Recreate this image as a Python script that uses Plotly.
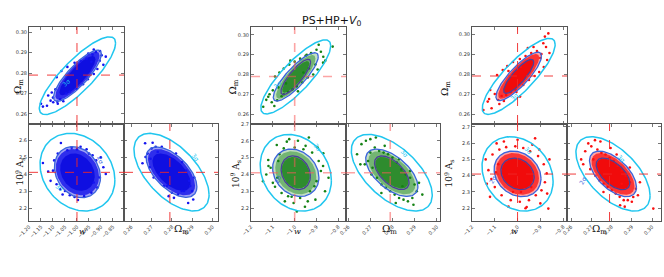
import numpy as np
import plotly.graph_objects as go

FIG_W, FIG_H = 664, 277
TITLE = "PS+HP+<i>V</i><sub>0</sub>"

# fiducial values (dashed lines)
W_FID = -1.0
OM_FID = 0.279
AS_FID = 2.41

# tick values
w_ticks_g1 = [-1.20, -1.15, -1.10, -1.05, -1.00, -0.95, -0.90, -0.85, -0.80]
w_ticks = [-1.2, -1.1, -1.0, -0.9, -0.8]
om_ticks = [0.26, 0.27, 0.28, 0.29, 0.30]
as_ticks = [2.2, 2.3, 2.4, 2.5, 2.6, 2.7]

# axis ranges per group
w_range = [[-1.20, -0.804], [-1.20, -0.765], [-1.20, -0.783]]
om_y_range = [[0.2551, 0.3025], [0.255, 0.304], [0.255, 0.3035]]
om_x_range = [[0.2564, 0.3027], [0.259, 0.3015], [0.258, 0.3044]]
as_range = [[2.124, 2.694], [2.123, 2.70], [2.122, 2.717]]

# contour ellipses: centre, correlation, half-extents (x, y) for 3sigma/2sigma/1sigma, cloud body
wom_center = [(-0.998, 0.2787), (-0.995, 0.2788), (-0.995, 0.2788)]
wom_rho = [0.84, 0.84, 0.84]
wom_s3 = [(0.159, 0.019), (0.160, 0.0187), (0.160, 0.019)]
wom_s2 = [(0.100, 0.0125), (0.103, 0.0122), (0.100, 0.0121)]
wom_s1 = [None, (0.068, 0.0089), (0.066, 0.0085)]
wom_body = [(0.092, 0.0117), (0.090, 0.0110), (0.090, 0.0112)]
wom_core = [(0.075, 0.0096), (0.062, 0.0080), (0.066, 0.0084)]

was_center = [(-0.998, 2.411), (-0.995, 2.410), (-1.0, 2.411)]
was_rho = [-0.2, -0.2, -0.2]
was_s3 = [(0.156, 0.228), (0.163, 0.228), (0.156, 0.228)]
was_s2 = [(0.096, 0.150), (0.106, 0.141), (0.103, 0.140)]
was_s1 = [None, (0.067, 0.100), (0.073, 0.097)]
was_body = [(0.090, 0.136), (0.094, 0.128), (0.094, 0.128)]
was_core = [(0.072, 0.110), (0.064, 0.094), (0.070, 0.094)]

omas_center = [(0.2798, 2.411), (0.2797, 2.410), (0.2807, 2.411)]
omas_rho = [-0.58, -0.58, -0.58]
omas_s3 = [(0.0185, 0.228), (0.0183, 0.228), (0.0183, 0.228)]
omas_s2 = [(0.0125, 0.148), (0.0118, 0.141), (0.0116, 0.140)]
omas_s1 = [None, (0.0078, 0.100), (0.0083, 0.097)]
omas_body = [(0.0116, 0.136), (0.0106, 0.128), (0.0106, 0.128)]
omas_core = [(0.0094, 0.110), (0.0075, 0.094), (0.0080, 0.094)]

# scattered samples (outer parts of the clouds)
g1_wom_w = [-1.142, -1.125, -1.110, -1.099, -1.082, -1.080, -1.057, -1.150, -1.120, -1.105, -1.090, -1.045,
            -1.030, -1.000, -0.975, -0.955, -0.930, -0.915, -0.904, -0.921, -0.953, -0.897, -0.905, -0.960,
            -0.985, -1.010, -1.040, -1.065, -1.085, -0.940, -0.890, -0.930, -1.100, -1.070, -0.880, -0.935]
g1_wom_om = [0.2636, 0.2640, 0.2665, 0.2657, 0.2660, 0.2650, 0.2662, 0.2650, 0.2690, 0.2705, 0.2720, 0.2700,
             0.2710, 0.2722, 0.2745, 0.2770, 0.2795, 0.2820, 0.2908, 0.2903, 0.2895, 0.2887, 0.2860, 0.2870,
             0.2860, 0.2850, 0.2830, 0.2810, 0.2780, 0.2855, 0.2840, 0.2915, 0.2680, 0.2672, 0.2880, 0.2890]
g1_was_w = [-1.142, -1.120, -1.067, -1.022, -0.960, -0.901, -0.890, -0.996, -1.060, -1.110, -1.095, -1.080,
            -1.040, -1.000, -0.950, -0.920, -0.905, -0.915, -0.940, -0.970, -1.030, -1.070, -1.100, -1.085,
            -0.930, -0.880, -1.010, -0.985, -1.050, -0.935]
g1_was_as = [2.465, 2.414, 2.582, 2.555, 2.545, 2.498, 2.440, 2.247, 2.280, 2.360, 2.480, 2.520,
             2.540, 2.545, 2.520, 2.480, 2.380, 2.320, 2.290, 2.270, 2.275, 2.310, 2.420, 2.340,
             2.350, 2.400, 2.265, 2.560, 2.300, 2.510]
g1_omas_om = [0.2668, 0.2705, 0.2655, 0.2848, 0.2905, 0.2880, 0.2784, 0.2680, 0.2700, 0.2720, 0.2690, 0.2740,
              0.2760, 0.2800, 0.2830, 0.2860, 0.2890, 0.2910, 0.2870, 0.2850, 0.2820, 0.2750, 0.2710, 0.2670,
              0.2730, 0.2900, 0.2810, 0.2775, 0.2885, 0.2695]
g1_omas_as = [2.581, 2.584, 2.463, 2.300, 2.250, 2.230, 2.270, 2.520, 2.550, 2.560, 2.440, 2.400,
              2.330, 2.290, 2.280, 2.300, 2.330, 2.380, 2.420, 2.470, 2.520, 2.560, 2.380, 2.500,
              2.530, 2.300, 2.260, 2.330, 2.360, 2.490]

g2_wom_w = [-1.144, -1.121, -1.093, -1.130, -1.105, -1.080, -1.060, -1.100, -1.075, -1.050, -1.030, -1.010,
            -0.990, -0.965, -0.940, -0.915, -0.895, -0.870, -0.826, -0.869, -0.880, -0.900, -0.925, -0.950,
            -0.975, -1.000, -1.025, -1.050, -1.070, -1.090, -0.860, -0.905, -0.935, -0.960, -1.040, -1.115,
            -0.985, -0.945, -1.020, -0.890]
g2_wom_om = [0.2637, 0.2688, 0.2641, 0.2672, 0.2660, 0.2670, 0.2690, 0.2720, 0.2735, 0.2700, 0.2712, 0.2725,
             0.2740, 0.2760, 0.2785, 0.2800, 0.2825, 0.2860, 0.2941, 0.2890, 0.2915, 0.2925, 0.2908, 0.2895,
             0.2880, 0.2865, 0.2850, 0.2830, 0.2810, 0.2790, 0.2870, 0.2850, 0.2830, 0.2810, 0.2755, 0.2700,
             0.2715, 0.2900, 0.2870, 0.2950]
g2_was_w = [-1.121, -1.082, -1.036, -0.869, -0.861, -0.953, -1.014, -1.090, -1.130, -1.110, -1.070, -1.050,
            -1.000, -0.960, -0.920, -0.890, -0.880, -0.900, -0.930, -0.975, -1.030, -1.060, -1.100, -1.120,
            -1.080, -0.905, -0.870, -0.940, -1.005, -0.985, -1.045, -0.950, -0.910, -1.075, -0.845, -1.145,
            -0.990, -0.935, -1.025, -0.895]
g2_was_as = [2.486, 2.575, 2.595, 2.526, 2.300, 2.208, 2.267, 2.327, 2.400, 2.440, 2.520, 2.555,
             2.560, 2.550, 2.530, 2.480, 2.420, 2.360, 2.300, 2.260, 2.270, 2.290, 2.350, 2.450,
             2.380, 2.250, 2.450, 2.240, 2.230, 2.600, 2.240, 2.570, 2.330, 2.480, 2.380, 2.360,
             2.180, 2.620, 2.610, 2.560]
g2_omas_om = [0.2640, 0.2660, 0.2680, 0.2700, 0.2690, 0.2720, 0.2710, 0.2740, 0.2760, 0.2780, 0.2800, 0.2820,
              0.2840, 0.2860, 0.2880, 0.2900, 0.2910, 0.2890, 0.2870, 0.2850, 0.2830, 0.2810, 0.2790, 0.2770,
              0.2750, 0.2730, 0.2705, 0.2675, 0.2920, 0.2935, 0.2655, 0.2725, 0.2815, 0.2895, 0.2765, 0.2845,
              0.2700, 0.2880, 0.2750, 0.2830]
g2_omas_as = [2.520, 2.580, 2.600, 2.610, 2.480, 2.560, 2.440, 2.540, 2.530, 2.520, 2.500, 2.470,
              2.430, 2.400, 2.380, 2.340, 2.300, 2.260, 2.240, 2.250, 2.260, 2.280, 2.300, 2.320,
              2.340, 2.380, 2.400, 2.460, 2.350, 2.280, 2.460, 2.620, 2.230, 2.220, 2.570, 2.330,
              2.530, 2.420, 2.290, 2.490]

g3_wom_w = [-0.865, -1.114, -1.131, -1.085, -0.989, -1.150, -0.880, -0.887, -1.100, -1.070, -1.050, -1.030,
            -1.010, -0.975, -0.950, -0.925, -0.905, -0.885, -0.870, -0.895, -0.915, -0.940, -0.965, -0.990,
            -1.020, -1.045, -1.065, -1.090, -1.120, -0.860, -0.930, -1.005, -1.060, -0.955, -1.080, -0.900,
            -0.875, -1.040, -0.985, -1.125]
g3_wom_om = [0.3003, 0.2629, 0.2662, 0.2670, 0.2687, 0.2620, 0.2987, 0.2954, 0.2700, 0.2690, 0.2695, 0.2710,
             0.2722, 0.2745, 0.2770, 0.2790, 0.2810, 0.2835, 0.2870, 0.2900, 0.2915, 0.2905, 0.2890, 0.2875,
             0.2860, 0.2840, 0.2820, 0.2795, 0.2720, 0.2905, 0.2935, 0.2710, 0.2665, 0.2930, 0.2650, 0.2880,
             0.2935, 0.2815, 0.2835, 0.2675]
g3_was_w = [-1.092, -0.923, -0.872, -0.865, -0.960, -1.121, -1.128, -1.140, -1.110, -1.080, -1.050, -1.010,
            -0.975, -0.945, -0.910, -0.885, -0.880, -0.895, -0.920, -0.950, -0.990, -1.030, -1.070, -1.100,
            -1.115, -0.860, -0.935, -1.060, -1.000, -0.900, -1.040, -0.965, -1.135, -0.905, -1.085, -0.985,
            -0.940, -1.020, -0.870, -1.095]
g3_was_as = [2.598, 2.629, 2.414, 2.198, 2.208, 2.270, 2.434, 2.500, 2.530, 2.560, 2.575, 2.580,
             2.570, 2.550, 2.520, 2.470, 2.360, 2.310, 2.280, 2.250, 2.240, 2.250, 2.280, 2.330,
             2.380, 2.500, 2.590, 2.610, 2.620, 2.230, 2.210, 2.200, 2.350, 2.560, 2.470, 2.300,
             2.330, 2.300, 2.290, 2.420]
g3_omas_om = [0.3006, 0.2718, 0.2685, 0.2907, 0.2842, 0.2650, 0.2670, 0.2700, 0.2730, 0.2750, 0.2770, 0.2790,
              0.2810, 0.2830, 0.2850, 0.2870, 0.2890, 0.2920, 0.2930, 0.2900, 0.2880, 0.2860, 0.2840, 0.2820,
              0.2800, 0.2780, 0.2760, 0.2740, 0.2720, 0.2695, 0.2660, 0.2745, 0.2795, 0.2865, 0.2940, 0.2825,
              0.2710, 0.2890, 0.2760, 0.2850]
g3_omas_as = [2.198, 2.618, 2.598, 2.269, 2.219, 2.500, 2.550, 2.580, 2.560, 2.540, 2.530, 2.510,
              2.490, 2.460, 2.430, 2.400, 2.360, 2.320, 2.280, 2.240, 2.250, 2.250, 2.270, 2.290,
              2.310, 2.330, 2.350, 2.370, 2.400, 2.440, 2.470, 2.610, 2.570, 2.210, 2.360, 2.530,
              2.500, 2.450, 2.300, 2.350]

samples = [
    [(g1_wom_w, g1_wom_om), (g1_was_w, g1_was_as), (g1_omas_om, g1_omas_as)],
    [(g2_wom_w, g2_wom_om), (g2_was_w, g2_was_as), (g2_omas_om, g2_omas_as)],
    [(g3_wom_w, g3_wom_om), (g3_was_w, g3_was_as), (g3_omas_om, g3_omas_as)],
]

# styles
point_color = ["rgb(20,20,240)", "rgb(20,130,20)", "rgb(250,15,15)"]
halo_color = ["rgba(45,45,235,0.45)", "rgba(40,140,40,0.28)", "rgba(250,30,30,0.4)"]
body_color = ["rgba(30,30,235,0.88)", "rgba(35,140,35,0.5)", "rgba(250,25,25,0.8)"]
core_color = ["rgba(15,15,225,1.0)", "rgba(20,125,20,0.72)", "rgba(240,10,10,0.95)"]
CYAN = "#20c6ef"
BLUE2 = "#3a64dc"
DARK1 = "#4b3f9a"
dash_color = ["rgba(240,40,40,0.9)", "rgba(250,90,90,0.55)", "rgba(240,40,40,0.9)"]
dash_width = [1.0, 1.6, 1.0]

# panel pixel geometry
group_x0 = [29, 251, 472]
COLW = 95
TOP_Y0, MID_Y, BOT_Y1 = 27, 124, 221


def fx(px):
    return px / FIG_W


def fy(py):
    return 1 - py / FIG_H


def ellipse(center, ext, rho, n=160):
    t = np.linspace(0, 2 * np.pi, n)
    cx, cy = center
    ax, ay = ext
    x = cx + ax * np.cos(t)
    y = cy + ay * (rho * np.cos(t) + np.sqrt(1 - rho ** 2) * np.sin(t))
    return x, y


fig = go.Figure()
layout = dict(
    width=FIG_W, height=FIG_H, autosize=False,
    margin=dict(l=0, r=0, t=0, b=0, pad=0, autoexpand=False),
    paper_bgcolor="white", plot_bgcolor="white",
    showlegend=False, hovermode=False,
)
shapes = []
annotations = []

axis_common = dict(
    showline=True, linecolor="#555", linewidth=1, mirror="ticks",
    ticks="inside", ticklen=3, tickwidth=0.8, tickcolor="#555",
    showgrid=False, zeroline=False, automargin=False,
    tickfont=dict(family="DejaVu Sans", size=5, color="#333"),
)

for g in range(3):
    x0 = group_x0[g]
    doms = [
        ([fx(x0), fx(x0 + COLW)], [fy(MID_Y), fy(TOP_Y0)]),
        ([fx(x0), fx(x0 + COLW)], [fy(BOT_Y1), fy(MID_Y)]),
        ([fx(x0 + COLW), fx(x0 + 2 * COLW - 1)], [fy(BOT_Y1), fy(MID_Y)]),
    ]
    wt = w_ticks_g1 if g == 0 else w_ticks
    wfmt = ".2f" if g == 0 else ".1f"
    specs = [
        (w_range[g], om_y_range[g], wt, om_ticks, wfmt, ".2f", False, True),
        (w_range[g], as_range[g], wt, as_ticks, wfmt, ".1f", True, True),
        (om_x_range[g], as_range[g], om_ticks, as_ticks, ".2f", ".1f", True, False),
    ]
    centers = [wom_center[g], was_center[g], omas_center[g]]
    rhos = [wom_rho[g], was_rho[g], omas_rho[g]]
    s3 = [wom_s3[g], was_s3[g], omas_s3[g]]
    s2 = [wom_s2[g], was_s2[g], omas_s2[g]]
    s1 = [wom_s1[g], was_s1[g], omas_s1[g]]
    bodies = [wom_body[g], was_body[g], omas_body[g]]
    cores = [wom_core[g], was_core[g], omas_core[g]]
    fids = [(W_FID, OM_FID), (W_FID, AS_FID), (OM_FID, AS_FID)]

    for p in range(3):
        k = 3 * g + p + 1
        xk = "xaxis" if k == 1 else f"xaxis{k}"
        yk = "yaxis" if k == 1 else f"yaxis{k}"
        xr = "x" if k == 1 else f"x{k}"
        yr = "y" if k == 1 else f"y{k}"
        xrng, yrng, xt, yt, xf, yf, sxl, syl = specs[p]
        layout[xk] = dict(axis_common, domain=doms[p][0], range=xrng, anchor=yr,
                          tickvals=xt, tickformat=xf, showticklabels=sxl, tickangle=-45)
        layout[yk] = dict(axis_common, domain=doms[p][1], range=yrng, anchor=xr,
                          tickvals=yt, tickformat=yf, showticklabels=syl)

        # halo, body and dense core of the cloud
        for ext, col in ((s2[p], halo_color[g]), (bodies[p], body_color[g]), (cores[p], core_color[g])):
            cx, cy = ellipse(centers[p], ext, rhos[p])
            fig.add_trace(go.Scatter(x=cx, y=cy, xaxis=xr, yaxis=yr, mode="lines",
                                     fill="toself", fillcolor=col,
                                     line=dict(width=0), hoverinfo="skip"))
        # scattered points
        sx, sy = samples[g][p]
        fig.add_trace(go.Scatter(x=sx, y=sy, xaxis=xr, yaxis=yr, mode="markers",
                                 marker=dict(size=2.6, color=point_color[g], line=dict(width=0))))
        # contours
        levels = [(s3[p], CYAN, 1.5), (s2[p], BLUE2, 1.3), (s1[p], DARK1, 1.3)]
        for ext, col, lw in levels:
            if ext is None:
                continue
            ex, ey = ellipse(centers[p], ext, rhos[p])
            fig.add_trace(go.Scatter(x=ex, y=ey, xaxis=xr, yaxis=yr, mode="lines",
                                     line=dict(color=col, width=lw), hoverinfo="skip"))
        # fiducial dashed lines
        fxv, fyv = fids[p]
        shapes.append(dict(type="line", xref=xr, yref=f"{yr} domain", x0=fxv, x1=fxv, y0=0, y1=1,
                           line=dict(color=dash_color[g], width=dash_width[g], dash="dash")))
        shapes.append(dict(type="line", xref=f"{xr} domain", yref=yr, x0=0, x1=1, y0=fyv, y1=fyv,
                           line=dict(color=dash_color[g], width=dash_width[g], dash="dash")))

# axis titles (pixel positions)
label_font = dict(family="DejaVu Serif", size=10, color="#111")
title_pos = [
    dict(om_y=(10, 77), as_y=(11, 172), w=(77, 238), om_x=(172, 238)),
    dict(om_y=(233, 77), as_y=(235, 174), w=(297, 238), om_x=(389, 238)),
    dict(om_y=(454, 79), as_y=(457, 174), w=(520, 238), om_x=(609, 238)),
]
for tp in title_pos:
    annotations.append(dict(text="Ω<sub>m</sub>", x=fx(tp["om_y"][0]), y=fy(tp["om_y"][1]), xref="paper",
                            yref="paper", showarrow=False, textangle=-90, font=label_font))
    annotations.append(dict(text="10<sup>9</sup> A<sub>s</sub>", x=fx(tp["as_y"][0]), y=fy(tp["as_y"][1]),
                            xref="paper", yref="paper", showarrow=False, textangle=-90,
                            font=dict(family="DejaVu Serif", size=9, color="#111")))
    annotations.append(dict(text="<i>w</i>", x=fx(tp["w"][0]), y=fy(tp["w"][1]), xref="paper", yref="paper",
                            showarrow=False, font=dict(family="DejaVu Serif", size=8, color="#111")))
    annotations.append(dict(text="Ω<sub>m</sub>", x=fx(tp["om_x"][0]), y=fy(tp["om_x"][1]), xref="paper",
                            yref="paper", showarrow=False, font=label_font))

# contour labels (text, colour, x px, y px, angle)
clabels = [
    ("3σ", CYAN, 58, 74, -40), ("3σ", CYAN, 52, 195, 35), ("2σ", BLUE2, 94, 160, 70), ("3σ", CYAN, 188, 157, 50),
    ("3σ", CYAN, 277, 76, -45), ("3σ", CYAN, 318, 147, 50), ("2σ", BLUE2, 277, 179, -70), ("3σ", CYAN, 405, 153, 50),
    ("3σ", CYAN, 522, 88, -45), ("3σ", CYAN, 537, 150, 50), ("2σ", BLUE2, 500, 179, -60), ("3σ", CYAN, 630, 158, 50),
    ("2σ", BLUE2, 590, 180, -60),
]
for txt, col, x, y, ang in clabels:
    annotations.append(dict(text=txt, x=fx(x), y=fy(y), xref="paper", yref="paper", showarrow=False,
                            textangle=ang, font=dict(family="DejaVu Sans", size=6, color=col)))

annotations.append(dict(text=TITLE, x=fx(332), y=fy(12), xref="paper", yref="paper", showarrow=False,
                        font=dict(family="DejaVu Sans", size=11, color="#111")))

layout["shapes"] = shapes
layout["annotations"] = annotations
fig.update_layout(**layout)
fig.write_html("out.html", config={"displayModeBar": False, "staticPlot": True},
               post_script="document.body.style.margin='0px';document.body.style.padding='0px';")
